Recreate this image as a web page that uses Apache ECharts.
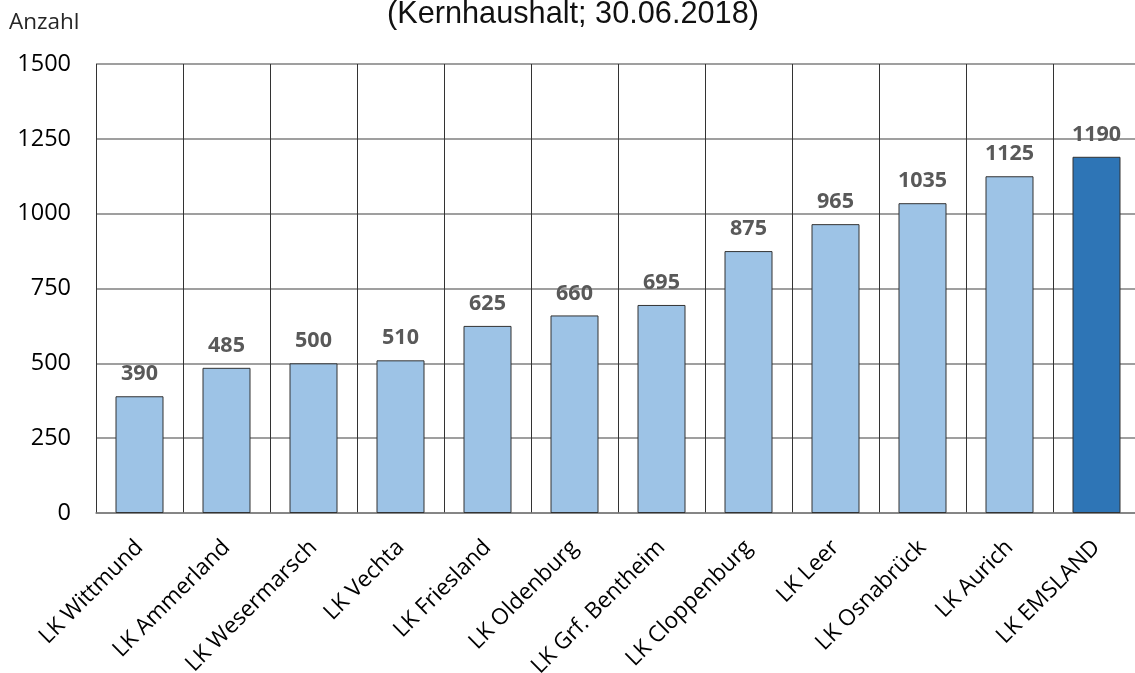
<!DOCTYPE html>
<html>
<head>
<meta charset="utf-8">
<script src="https://cdn.jsdelivr.net/npm/echarts@6/dist/echarts.min.js"></script>
<style>html,body{margin:0;padding:0;background:#fff}#c{width:1135px;height:673px}</style>
</head>
<body>
<div id="c"></div>
<script>
const categories = ["LK Wittmund","LK Ammerland","LK Wesermarsch","LK Vechta","LK Friesland","LK Oldenburg","LK Grf. Bentheim","LK Cloppenburg","LK Leer","LK Osnabrück","LK Aurich","LK EMSLAND"];
const values = [390,485,500,510,625,660,695,875,965,1035,1125,1190];
const highlightIndex = 11;
const yTicks = {min:0, max:1500, interval:250};

const chart = echarts.init(document.getElementById('c'), null, {renderer:'canvas'});
chart.setOption({
  animation:false,
  backgroundColor:'#fff',
  title:{
    text:'(Kernhaushalt; 30.06.2018)',
    left:382, top:-6,
    textStyle:{fontFamily:'Liberation Sans', fontSize:30.7, fontWeight:'normal', color:'#111'}
  },
  graphic:[{type:'text', left:9, top:11, style:{text:'Anzahl', font:'22.5px "Open Sans"', fill:'#262626'}}],
  grid:{left:96, top:64, width:1044, height:449, containLabel:false, outerBoundsMode:'none'},
  xAxis:{
    type:'category', data:categories,
    axisLine:{show:true, lineStyle:{color:'#7f7f7f', width:1.5}},
    axisTick:{show:false},
    splitLine:{show:true, lineStyle:{color:'#333', width:1}},
    axisLabel:{rotate:45, margin:31, fontFamily:'Open Sans', fontSize:22.5, color:'#000', interval:0}
  },
  yAxis:{
    type:'value', min:yTicks.min, max:yTicks.max, interval:yTicks.interval,
    axisLine:{show:false}, axisTick:{show:false},
    splitLine:{lineStyle:{color:'#7f7f7f', width:1.5}},
    axisLabel:{margin:25, fontFamily:'Open Sans', fontSize:23.5, color:'#000', formatter:(v)=>String(v)}
  },
  series:[{
    type:'bar', barWidth:48,
    data:values.map((v,i)=>({value:v, itemStyle:{color: i===highlightIndex ? '#2E75B6' : '#9DC3E6'}})),
    itemStyle:{borderColor:'#333', borderWidth:1},
    label:{show:true, position:'top', distance:11, fontFamily:'Open Sans', fontWeight:'bold', fontSize:21.5, color:'#595959'}
  }]
});
</script>
</body>
</html>
